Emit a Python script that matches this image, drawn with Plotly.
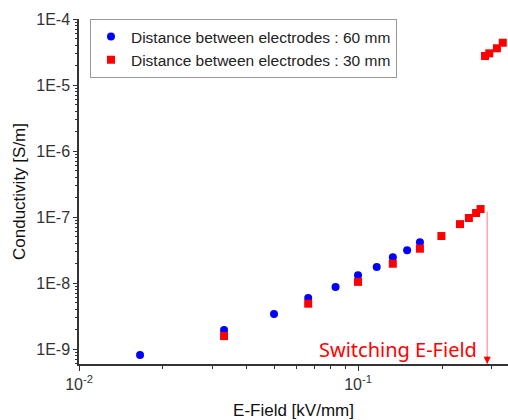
import plotly.graph_objects as go
import numpy as np

# Data
e60 = [0.01655, 0.0331, 0.050, 0.0663, 0.0831, 0.1000, 0.1167, 0.1333, 0.150, 0.1667]
s60 = [8.1e-10, 1.94e-9, 3.39e-9, 5.95e-9, 8.7e-9, 1.31e-8, 1.75e-8, 2.45e-8, 3.13e-8, 4.14e-8]

e30 = [0.0331, 0.0663, 0.1000, 0.1333, 0.1667, 0.199, 0.232, 0.2497, 0.265, 0.275,
       0.2853, 0.2955, 0.3147, 0.3303]
s30 = [1.57e-9, 4.86e-9, 1.04e-8, 1.96e-8, 3.31e-8, 5.15e-8, 7.8e-8, 9.66e-8, 1.15e-7, 1.32e-7,
       2.75e-5, 3.02e-5, 3.6e-5, 4.37e-5]

name60 = "Distance between electrodes : 60 mm"
name30 = "Distance between electrodes : 30 mm"

y_tickvals = [1e-9, 1e-8, 1e-7, 1e-6, 1e-5, 1e-4]
y_ticktext = ["1E-9", "1E-8", "1E-7", "1E-6", "1E-5", "1E-4"]
x_tickvals = [0.01, 0.1]
x_ticktext = ["10<sup>-2</sup>", "10<sup>-1</sup>"]

switch_x = 0.2905
switch_top = 1.2e-7
x_range = [-2, -0.4624]
y_range = [-9.227, -4]

y_minor = [k * 10.0 ** e for e in range(-10, -4) for k in range(2, 10)]
x_minor = [k * 10.0 ** e for e in (-2, -1) for k in range(2, 10)]

fig = go.Figure()
fig.add_trace(go.Scatter(x=e60, y=s60, mode="markers", name=name60,
                         marker=dict(symbol="circle", size=8, color="#0000FF")))
fig.add_trace(go.Scatter(x=e30, y=s30, mode="markers", name=name30,
                         marker=dict(symbol="square", size=8, color="#FF0000")))
fig.add_trace(go.Scatter(x=[switch_x, switch_x], y=[switch_top, 10 ** y_range[0]],
                         mode="lines", showlegend=False, hoverinfo="skip", cliponaxis=False,
                         line=dict(color="rgba(255,0,0,0.35)", width=1.5)))

fig.add_annotation(x=np.log10(switch_x), y=y_range[0], xref="x", yref="y",
                   ax=0, ay=-9, axref="pixel", ayref="pixel", text="",
                   showarrow=True, arrowhead=2, arrowsize=1.2, arrowwidth=1.2,
                   arrowcolor="#FF0000")
fig.add_annotation(x=np.log10(switch_x) - 0.03, y=-9.0, xref="x", yref="y",
                   text="Switching E-Field", showarrow=False, xanchor="right", yanchor="middle",
                   font=dict(family="Noto Sans", size=20, color="#FF0000"))

axis_common = dict(showgrid=False, zeroline=False, showline=True, linecolor="#333333",
                   linewidth=1.5, ticks="outside", tickcolor="#333333", mirror=False,
                   automargin=False,
                   tickfont=dict(family="Liberation Sans, Arial", size=16, color="#333333"),
                   title_font=dict(family="Liberation Sans, Arial", size=17, color="#111111"))

fig.update_xaxes(type="log", range=x_range, tickmode="array", tickvals=x_tickvals,
                 ticktext=x_ticktext, ticklen=5, tickwidth=1.2,
                 minor=dict(tickmode="array", tickvals=x_minor, ticks="outside", ticklen=3,
                            tickcolor="#333333", tickwidth=1),
                 title_text="E-Field [kV/mm]", title_standoff=12, **axis_common)
fig.update_yaxes(type="log", range=y_range, tickmode="array", tickvals=y_tickvals,
                 ticktext=y_ticktext, ticklen=4, tickwidth=1.2,
                 minor=dict(tickmode="array", tickvals=y_minor, ticks="outside", ticklen=2,
                            tickcolor="#333333", tickwidth=1),
                 title_text="Conductivity [S/m]", title_standoff=6, **axis_common)

fig.update_layout(
    width=508, height=420, autosize=False,
    margin=dict(l=79, r=0, t=19, b=56, autoexpand=False),
    paper_bgcolor="white", plot_bgcolor="white",
    showlegend=True,
    legend=dict(x=0.0256, y=1.0, xanchor="left", yanchor="top",
                bgcolor="white", bordercolor="#999999", borderwidth=1,
                font=dict(family="Liberation Sans, Arial", size=15.5, color="#222222"),
                tracegroupgap=0, itemsizing="trace"),
)

post = ("document.body.style.margin='0';document.body.style.padding='0';"
        "document.documentElement.style.overflow='hidden';"
        "var gd=document.getElementById('{plot_id}');"
        "Plotly.relayout(gd,{width:508,height:420});")
fig.write_html("out.html", config={"responsive": False, "displayModeBar": False},
               post_script=post)
